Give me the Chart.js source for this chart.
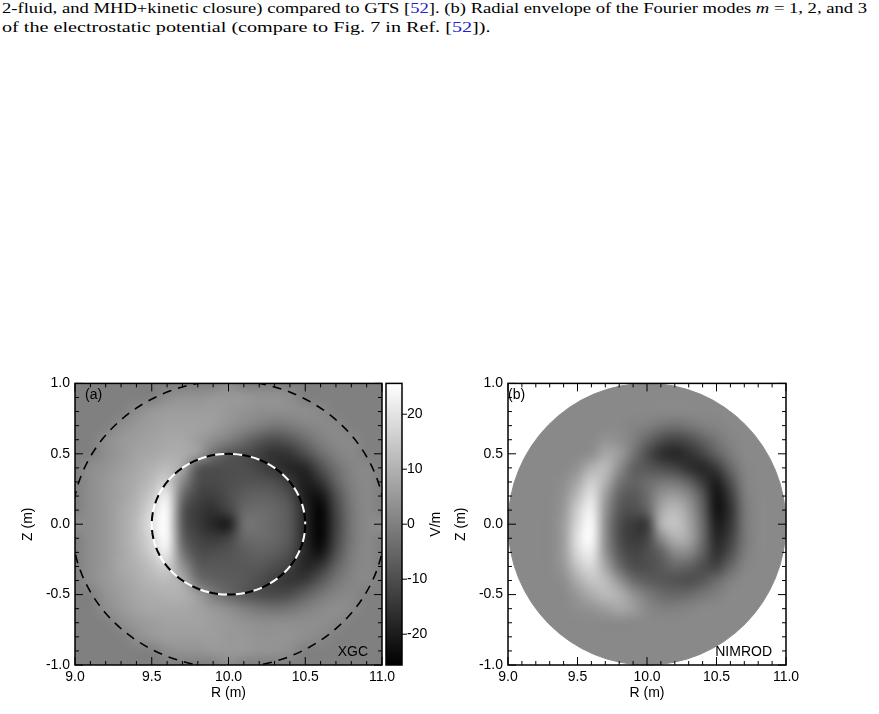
<!DOCTYPE html>
<html>
<head>
<meta charset="utf-8">
<script src="https://cdn.jsdelivr.net/npm/chart.js@4"></script>
<style>
  body { margin: 0; background: #fff; width: 879px; height: 714px; overflow: hidden; position: relative; }
  .cap { position: absolute; left: 2px; font-family: "Liberation Serif", serif; font-size: 15.5px; color: #000; white-space: nowrap; transform-origin: 0 0; }
  .cap a { color: #22c; text-decoration: none; }
  .box { position: absolute; top: 370px; height: 340px; }
</style>
</head>
<body>
<div class="cap" style="top:-1px;transform:scaleX(1.2)">2-fluid, and MHD+kinetic closure) compared to GTS [<a>52</a>]. (b) Radial envelope of the Fourier modes <i>m</i> = 1, 2, and 3</div>
<div class="cap" style="top:18px;transform:scaleX(1.3)">of the electrostatic potential (compare to Fig. 7 in Ref. [<a>52</a>]).</div>
<div class="box" style="left:0;width:470px"><canvas id="left"></canvas></div>
<div class="box" style="left:440px;width:439px"><canvas id="right"></canvas></div>
<script>
// grid cell centres, R and Z in metres (step 0.1)
const rValues = [9.0,9.1,9.2,9.3,9.4,9.5,9.6,9.7,9.8,9.9,10.0,10.1,10.2,10.3,10.4,10.5,10.6,10.7,10.8,10.9,11.0];
const zValues = [1.0,0.9,0.8,0.7,0.6,0.5,0.4,0.3,0.2,0.1,0.0,-0.1,-0.2,-0.3,-0.4,-0.5,-0.6,-0.7,-0.8,-0.9,-1.0];
const xTicks = [9.0, 9.5, 10.0, 10.5, 11.0];
const zTicks = [-1.0, -0.5, 0.0, 0.5, 1.0];
const barTicks = [20, 10, 0, -10, -20];

// XGC electric field (V/m), rows follow zValues
const xgcField = [
  [0,0,0,0,0,0,0,0,0,0,3,0,0,0,0,0,0,0,0,0,0],
  [0,0,0,0,0,0,3,4,4,5,5,5,4,4,3,0,0,0,0,0,0],
  [0,0,0,0,3,5,6,6,6,6,5,4,3,3,3,3,2,0,0,0,0],
  [0,0,0,3,5,6,7,7,7,6,4,2,0,-2,-1,1,2,2,0,0,0],
  [0,0,3,5,6,7,8,8,6,3,0,-4,-8,-10,-8,-4,0,2,2,0,0],
  [0,0,3,5,7,8,9,9,6,-3,-8,-10,-13,-16,-15,-10,-4,0,2,0,0],
  [0,3,4,6,8,10,12,8,-8,-10,-10,-10,-12,-15,-18,-18,-10,-3,1,2,0],
  [0,3,5,7,9,12,16,2,-10,-11,-10,-9,-9,-10,-14,-20,-16,-6,0,2,0],
  [0,3,5,7,10,15,22,-4,-12,-13,-10,-7,-6,-7,-10,-20,-22,-10,-1,2,0],
  [0,3,5,8,11,18,25,-8,-14,-16,-12,-5,-4,-5,-8,-18,-25,-12,-2,2,0],
  [3,3,5,8,12,20,25,-8,-14,-18,-20,-3,-3,-5,-8,-18,-25,-13,-2,2,3],
  [0,3,5,8,12,18,25,-6,-12,-14,-12,-5,-4,-5,-8,-18,-25,-12,-2,2,0],
  [0,3,5,8,11,16,22,-2,-10,-10,-9,-7,-6,-7,-10,-18,-22,-10,-1,2,0],
  [0,3,5,8,10,13,16,4,-7,-8,-8,-8,-8,-10,-13,-18,-15,-6,0,2,0],
  [0,3,5,7,9,11,12,9,-3,-6,-7,-8,-10,-13,-15,-14,-8,-2,1,2,0],
  [0,0,4,6,8,9,10,10,6,-1,-5,-8,-10,-11,-10,-6,-2,1,2,0,0],
  [0,0,3,5,7,8,8,8,7,5,3,0,-2,-3,-2,0,2,3,2,0,0],
  [0,0,0,3,5,6,7,7,7,6,5,4,3,3,3,3,3,2,0,0,0],
  [0,0,0,0,3,5,6,6,6,6,5,5,4,4,4,3,2,0,0,0,0],
  [0,0,0,0,0,0,3,4,4,5,5,5,4,4,3,0,0,0,0,0,0],
  [0,0,0,0,0,0,0,0,0,0,3,0,0,0,0,0,0,0,0,0,0]
];

// NIMROD electric field (V/m), null outside the plasma
const n = null;
const nimrodBase = 2;
const nimrodField = [
  [n,n,n,n,n,n,n,n,n,n,2,n,n,n,n,n,n,n,n,n,n],
  [n,n,n,n,n,n,2,2,2,2,2,2,2,2,2,n,n,n,n,n,n],
  [n,n,n,n,2,2,2,2,2,2,2,2,2,2,2,2,2,n,n,n,n],
  [n,n,n,2,2,2,2,2,2,1,0,-2,-3,-2,0,1,2,2,n,n,n],
  [n,n,2,2,2,2,2,4,3,0,-5,-10,-12,-10,-6,-2,1,2,2,n,n],
  [n,n,2,2,2,2,3,8,6,-2,-10,-16,-18,-16,-12,-6,-1,2,2,n,n],
  [n,2,2,2,2,4,10,12,3,-6,-8,-10,-12,-16,-18,-14,-5,1,2,2,n],
  [n,2,2,2,3,8,16,10,-2,-6,-4,-2,-2,-6,-14,-20,-10,0,2,2,n],
  [n,2,2,2,4,12,20,6,-6,-8,-4,4,6,2,-8,-22,-14,-1,2,2,n],
  [n,2,2,2,5,16,23,4,-8,-10,-6,8,12,6,-6,-22,-16,-2,2,2,n],
  [2,2,2,2,6,18,25,3,-10,-14,-14,10,14,8,-4,-20,-15,-2,2,2,2],
  [n,2,2,2,6,20,25,3,-10,-14,-12,2,10,8,-4,-18,-13,-2,2,2,n],
  [n,2,2,2,6,18,22,4,-8,-12,-10,-6,2,2,-6,-16,-10,-1,2,2,n],
  [n,2,2,2,5,14,18,8,-4,-10,-10,-8,-5,-6,-10,-12,-5,1,2,2,n],
  [n,2,2,2,3,9,14,12,4,-4,-7,-8,-9,-10,-8,-4,0,2,2,2,n],
  [n,n,2,2,2,5,9,12,10,4,-1,-4,-5,-4,-2,0,2,2,2,n,n],
  [n,n,2,2,2,3,4,6,8,6,2,0,0,1,2,2,2,2,2,n,n],
  [n,n,n,2,2,2,2,2,2,2,2,2,2,2,2,2,2,2,n,n,n],
  [n,n,n,n,2,2,2,2,2,2,2,2,2,2,2,2,2,n,n,n,n],
  [n,n,n,n,n,n,2,2,2,2,2,2,2,2,2,n,n,n,n,n,n],
  [n,n,n,n,n,n,n,n,n,n,2,n,n,n,n,n,n,n,n,n,n]
];

const vMin = -25.6, vMax = 25.6;
const FONT = '"Liberation Sans", Arial, sans-serif';

function grayLevel(v) {
  return Math.round(Math.max(0, Math.min(1, (v - vMin) / (vMax - vMin))) * 255);
}

// draws the field grid as a smoothed image placed via the chart scales
function fieldPlugin(field, opts) {
  return {
    id: 'field',
    beforeDatasetsDraw(chart) {
      const { ctx, chartArea: a, scales: { x, y } } = chart;
      const off = document.createElement('canvas');
      off.width = rValues.length; off.height = zValues.length;
      const octx = off.getContext('2d');
      const img = octx.createImageData(off.width, off.height);
      field.forEach((row, j) => row.forEach((v, i) => {
        const k = (j * off.width + i) * 4;
        const g = grayLevel(v === null ? opts.fillValue : v);
        img.data[k] = g; img.data[k + 1] = g; img.data[k + 2] = g; img.data[k + 3] = 255;
      }));
      octx.putImageData(img, 0, 0);
      const x0 = x.getPixelForValue(rValues[0] - 0.05), x1 = x.getPixelForValue(rValues[rValues.length - 1] + 0.05);
      const y0 = y.getPixelForValue(zValues[0] + 0.05), y1 = y.getPixelForValue(zValues[zValues.length - 1] - 0.05);
      const cx = x.getPixelForValue(10), cy = y.getPixelForValue(0);
      const rx = x.getPixelForValue(11) - cx, ry = cy - y.getPixelForValue(1);
      ctx.save();
      ctx.beginPath(); ctx.rect(a.left, a.top, a.width, a.height); ctx.clip();
      if (opts.clipDisk) { ctx.beginPath(); ctx.ellipse(cx, cy, rx, ry, 0, 0, Math.PI * 2); ctx.clip(); }
      ctx.imageSmoothingEnabled = true;
      ctx.imageSmoothingQuality = 'high';
      ctx.drawImage(off, x0, y0, x1 - x0, y1 - y0);
      ctx.restore();
      if (opts.clipDisk) {
        ctx.save();
        ctx.strokeStyle = '#8a8a8a'; ctx.lineWidth = 1;
        ctx.beginPath(); ctx.ellipse(cx, cy, rx, ry, 0, 0, Math.PI * 2); ctx.stroke();
        ctx.restore();
      }
    },
    afterDatasetsDraw(chart) {
      const { ctx, chartArea: a, scales: { x, y } } = chart;
      ctx.save();
      ctx.beginPath(); ctx.rect(a.left, a.top, a.width, a.height); ctx.clip();
      const cx = x.getPixelForValue(10), cy = y.getPixelForValue(0);
      if (opts.circles) {
        const sx = x.getPixelForValue(11) - cx, sy = cy - y.getPixelForValue(1);
        ctx.lineWidth = 1.6;
        // outer dashed circle
        ctx.strokeStyle = '#000'; ctx.setLineDash([9, 7]);
        ctx.beginPath(); ctx.ellipse(cx, cy, sx * 1.02, sy * 1.02, 0, 0, Math.PI * 2); ctx.stroke();
        // inner circle: white dashes over black dashes
        ctx.lineWidth = 2;
        ctx.setLineDash([9, 9]);
        ctx.beginPath(); ctx.ellipse(cx, cy, sx * 0.5, sy * 0.5, 0, 0, Math.PI * 2); ctx.stroke();
        ctx.strokeStyle = '#fff'; ctx.lineDashOffset = 9;
        ctx.beginPath(); ctx.ellipse(cx, cy, sx * 0.5, sy * 0.5, 0, 0, Math.PI * 2); ctx.stroke();
      }
      ctx.restore();
      // frame and inward ticks on all sides
      ctx.save();
      ctx.strokeStyle = '#000'; ctx.lineWidth = 1.5; ctx.setLineDash([]);
      ctx.strokeRect(a.left, a.top, a.width, a.height);
      ctx.lineWidth = 1;
      for (let k = 0; k <= 20; k++) {
        const len = k % 5 === 0 ? 8 : 4;
        const px = x.getPixelForValue(9 + k * 0.1), py = y.getPixelForValue(-1 + k * 0.1);
        ctx.beginPath();
        ctx.moveTo(px, a.bottom); ctx.lineTo(px, a.bottom - len);
        ctx.moveTo(px, a.top); ctx.lineTo(px, a.top + len);
        ctx.moveTo(a.left, py); ctx.lineTo(a.left + len, py);
        ctx.moveTo(a.right, py); ctx.lineTo(a.right - len, py);
        ctx.stroke();
      }
      ctx.fillStyle = '#000'; ctx.font = '14px ' + FONT;
      ctx.textBaseline = 'top'; ctx.textAlign = 'left';
      ctx.fillText(opts.tag, a.left + opts.tagDx, a.top + 5);
      ctx.textBaseline = 'bottom'; ctx.textAlign = 'right';
      ctx.fillText(opts.label, a.right - opts.labelDx, a.bottom - 6);
      if (opts.colorbar) {
        const yc = chart.scales.yc;
        const bx = a.right + 4, bw = 16;
        const grad = ctx.createLinearGradient(0, yc.getPixelForValue(vMax), 0, yc.getPixelForValue(vMin));
        grad.addColorStop(0, '#fff'); grad.addColorStop(1, '#000');
        ctx.fillStyle = grad;
        ctx.fillRect(bx, a.top, bw, a.height);
        ctx.lineWidth = 1.5; ctx.strokeRect(bx, a.top, bw, a.height);
        ctx.lineWidth = 1; ctx.fillStyle = '#000';
        ctx.textAlign = 'left'; ctx.textBaseline = 'middle';
        barTicks.forEach(t => {
          const py = yc.getPixelForValue(t);
          ctx.beginPath(); ctx.moveTo(bx + bw, py); ctx.lineTo(bx + bw + 5, py); ctx.stroke();
          ctx.fillText(String(t), bx + bw + 5, py);
        });
        ctx.save();
        ctx.translate(bx + 50, (a.top + a.bottom) / 2);
        ctx.rotate(-Math.PI / 2);
        ctx.textAlign = 'center';
        ctx.fillText('V/m', 0, 0);
        ctx.restore();
      }
      ctx.restore();
    }
  };
}

function makeChart(id, field, opts, padding) {
  const scales = {
    x: {
      type: 'linear', min: 9, max: 11,
      afterBuildTicks: s => { s.ticks = xTicks.map(v => ({ value: v })); },
      afterFit: s => { s.height = 37; },
      grid: { display: false, drawTicks: false }, border: { display: false },
      ticks: { color: '#000', font: { family: FONT, size: 14 }, padding: 4, maxRotation: 0, callback: v => v.toFixed(1) },
      title: { display: true, text: 'R (m)', color: '#000', font: { family: FONT, size: 14 }, padding: 0 }
    },
    y: {
      type: 'linear', min: -1, max: 1,
      afterBuildTicks: s => { s.ticks = zTicks.map(v => ({ value: v })); },
      afterFit: s => { s.width = 55; },
      grid: { display: false, drawTicks: false }, border: { display: false },
      ticks: { color: '#000', font: { family: FONT, size: 14 }, padding: 5, callback: v => v.toFixed(1) },
      title: { display: true, text: 'Z (m)', color: '#000', font: { family: FONT, size: 14 }, padding: 0 }
    }
  };
  if (opts.colorbar) scales.yc = { type: 'linear', min: vMin, max: vMax, display: false };
  return new Chart(document.getElementById(id), {
    type: 'scatter',
    data: { datasets: [{ data: [] }] },
    options: {
      responsive: true, maintainAspectRatio: false, animation: false,
      layout: { padding },
      plugins: { legend: { display: false }, tooltip: { enabled: false } },
      scales
    },
    plugins: [fieldPlugin(field, opts)]
  });
}

makeChart('left', xgcField,
  { fillValue: 0, circles: true, colorbar: true, tag: '(a)', tagDx: 10, label: 'XGC', labelDx: 14 },
  { left: 20, top: 13, right: 88, bottom: 8 });
makeChart('right', nimrodField,
  { fillValue: nimrodBase, clipDisk: true, tag: '(b)', tagDx: 0, label: 'NIMROD', labelDx: 14 },
  { left: 13, top: 13, right: 93, bottom: 8 });
</script>
</body>
</html>
